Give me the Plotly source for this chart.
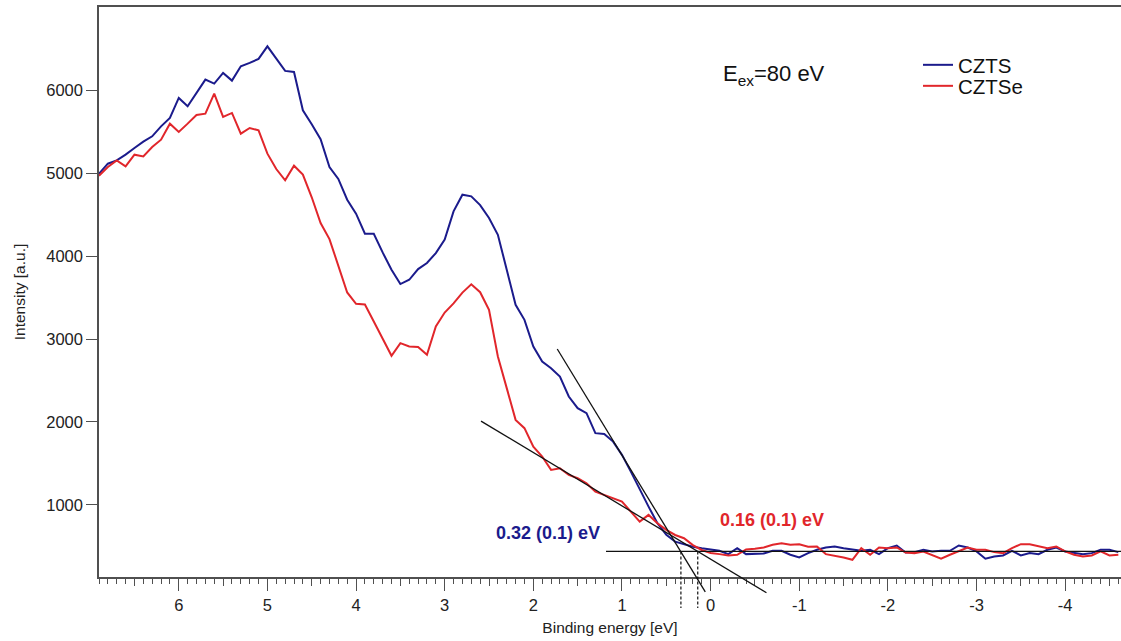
import plotly.graph_objects as go

# ---------------- data ----------------
energy = [round(6.9 - 0.1 * i, 1) for i in range(116)]  # binding energy grid [eV]

czts = [4995, 5115, 5155, 5224, 5305, 5381, 5445, 5565, 5667, 5908,
        5807, 5968, 6129, 6081, 6210, 6117, 6290, 6331, 6379, 6531,
        6383, 6234, 6222, 5759, 5590, 5410, 5075, 4931, 4681, 4512,
        4270, 4270, 4045, 3836, 3663, 3715, 3844, 3917, 4037, 4200,
        4540, 4741, 4721, 4615, 4460, 4258, 3836, 3413, 3232, 2910,
        2729, 2649, 2548, 2307, 2167, 2106, 1865, 1856, 1763, 1603,
        1401, 1181, 979, 779, 640, 557, 525, 496, 477, 460,
        446, 406, 478, 406, 406, 414, 446, 446, 398, 366,
        418, 458, 486, 498, 478, 458, 446, 458, 406, 478,
        510, 425, 430, 458, 438, 446, 446, 510, 486, 438,
        350, 378, 390, 446, 390, 418, 406, 458, 486, 438,
        418, 406, 418, 458, 458, 430]

cztse = [4970, 5075, 5155, 5083, 5224, 5203, 5316, 5405, 5598, 5498,
         5598, 5703, 5719, 5960, 5679, 5727, 5477, 5546, 5517, 5236,
         5051, 4914, 5091, 4983, 4710, 4399, 4206, 3896, 3562, 3425,
         3417, 3212, 3000, 2798, 2951, 2910, 2903, 2810, 3151, 3320,
         3430, 3560, 3660, 3565, 3353, 2790, 2408, 2025, 1925, 1703,
         1583, 1422, 1442, 1361, 1321, 1261, 1160, 1120, 1080, 1039,
         919, 798, 879, 779, 698, 637, 598, 515, 456, 420,
         406, 390, 398, 462, 470, 486, 518, 538, 518, 526,
         494, 498, 406, 390, 366, 338, 478, 398, 486, 478,
         486, 425, 418, 438, 398, 350, 398, 438, 486, 458,
         458, 430, 418, 478, 526, 526, 498, 478, 498, 438,
         398, 378, 390, 438, 390, 398]

series_names = ["CZTS", "CZTSe"]

# linear fits (leading edge and background)
fit_czts_e = [1.73, 0.06]
fit_czts_i = [2880, -50]
fit_cztse_e = [2.59, -0.63]
fit_cztse_i = [2010, -60]
background_e = [1.18, -4.63]
background_i = [438, 438]

# onset markers (dashed) and labels
onset_e = [0.335, 0.145]
onset_i_top = 438
onset_i_bottom = -244
onset_labels = ["<b>0.32 (0.1) eV</b>", "<b>0.16 (0.1) eV</b>"]
onset_label_pos = [(1.83, 661), (-0.69, 818)]

x_tick_vals = [6, 5, 4, 3, 2, 1, 0, -1, -2, -3, -4]
x_tick_text = ["6", "5", "4", "3", "2", "1", "0", "-1", "-2", "-3", "-4"]
x_half_ticks = [6.5, 5.5, 4.5, 3.5, 2.5, 1.5, 0.5, -0.5, -1.5, -2.5, -3.5, -4.5]
y_tick_vals = [1000, 2000, 3000, 4000, 5000, 6000]

X_RANGE = [6.9, -4.63]
Y_RANGE = [130, 7005]

BLUE = "#1b1b8c"
RED = "#e1262b"
FONT = "Liberation Sans, Arial, sans-serif"


def yfrac(v):
    return (v - Y_RANGE[0]) / (Y_RANGE[1] - Y_RANGE[0])


fig = go.Figure()

fig.add_trace(go.Scatter(x=energy, y=czts, mode="lines", name=series_names[0],
                         line=dict(color=BLUE, width=2), legend="legend"))
fig.add_trace(go.Scatter(x=energy, y=cztse, mode="lines", name=series_names[1],
                         line=dict(color=RED, width=2), legend="legend2"))
# invisible trace that carries the medium-tick axis
fig.add_trace(go.Scatter(x=[X_RANGE[0]], y=[Y_RANGE[1] + 1000], xaxis="x2", mode="lines",
                         showlegend=False, hoverinfo="skip"))

shapes = []
for ex, iy in [(fit_czts_e, fit_czts_i), (fit_cztse_e, fit_cztse_i), (background_e, background_i)]:
    shapes.append(dict(type="line", xref="x", yref="y domain",
                       x0=ex[0], x1=ex[1], y0=yfrac(iy[0]), y1=yfrac(iy[1]),
                       line=dict(color="#111111", width=1.3), layer="above"))
for oe in onset_e:
    shapes.append(dict(type="line", xref="x", yref="y domain",
                       x0=oe, x1=oe, y0=yfrac(onset_i_top), y1=yfrac(onset_i_bottom),
                       line=dict(color="#111111", width=1.2, dash="3px,2px"), layer="above"))

annotations = [
    dict(x=-0.72, y=6180, xref="x", yref="y", text="E<sub>ex</sub>=80 eV", showarrow=False,
         font=dict(family=FONT, size=22, color="#111111")),
    dict(x=onset_label_pos[0][0], y=onset_label_pos[0][1], xref="x", yref="y",
         text=onset_labels[0], showarrow=False, font=dict(family=FONT, size=18, color=BLUE)),
    dict(x=onset_label_pos[1][0], y=onset_label_pos[1][1], xref="x", yref="y",
         text=onset_labels[1], showarrow=False, font=dict(family=FONT, size=18, color=RED)),
]

axis_line = "#505050"

fig.update_layout(
    width=1121, height=641,
    margin=dict(l=99, r=0, t=7, b=64),
    paper_bgcolor="white", plot_bgcolor="white",
    font=dict(family=FONT, color="#222222"),
    shapes=shapes, annotations=annotations,
    xaxis=dict(range=X_RANGE, showgrid=False, zeroline=False,
               showline=True, linecolor=axis_line, linewidth=1.5, mirror=True,
               ticks="outside", ticklen=12, tickwidth=1.2, tickcolor=axis_line,
               tickvals=x_tick_vals, ticktext=x_tick_text,
               tickfont=dict(size=16.5, color="#222222"),
               minor=dict(dtick=0.1, ticks="outside", ticklen=5, tickwidth=1, tickcolor=axis_line, showgrid=False),
               title=dict(text="Binding energy [eV]", font=dict(size=15.5, color="#222222"), standoff=10)),
    xaxis2=dict(range=X_RANGE, overlaying="x", anchor="y", side="bottom", showgrid=False,
                zeroline=False, showline=False, ticks="outside", ticklen=8, tickwidth=1.1,
                tickcolor=axis_line, tickvals=x_half_ticks, showticklabels=False),
    yaxis=dict(range=Y_RANGE, showgrid=False, zeroline=False,
               showline=True, linecolor=axis_line, linewidth=1.5,
               ticks="outside", ticklen=11, tickwidth=1.2, tickcolor=axis_line,
               tickvals=y_tick_vals, tickfont=dict(size=16.5, color="#222222"),
               title=dict(text="Intensity [a.u.]", font=dict(size=15.5, color="#222222"), standoff=17)),
    legend=dict(x=(918 - 99) / 1022, y=1 - (45 - 7) / 570, xanchor="left", yanchor="top",
                bgcolor="rgba(0,0,0,0)", font=dict(family=FONT, size=20.5, color="#111111")),
    legend2=dict(x=(918 - 99) / 1022, y=1 - (66 - 7) / 570, xanchor="left", yanchor="top",
                 bgcolor="rgba(0,0,0,0)", font=dict(family=FONT, size=20.5, color="#111111")),
)

fig.write_html("out.html")
